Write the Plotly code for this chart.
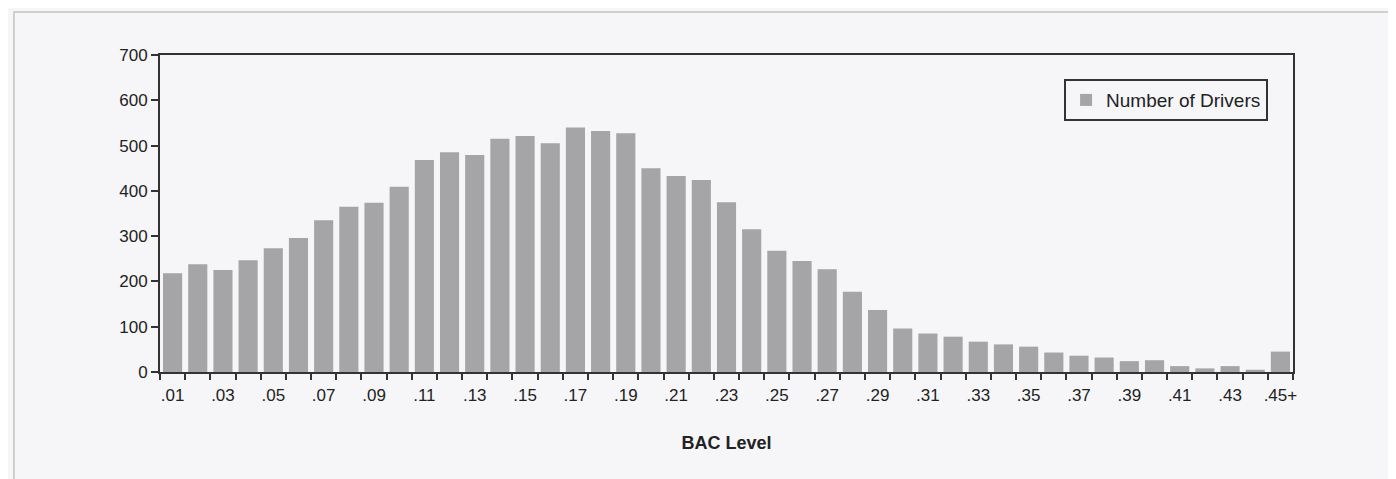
import plotly.graph_objects as go

categories = [".01", ".02", ".03", ".04", ".05", ".06", ".07", ".08", ".09", ".10",
              ".11", ".12", ".13", ".14", ".15", ".16", ".17", ".18", ".19", ".20",
              ".21", ".22", ".23", ".24", ".25", ".26", ".27", ".28", ".29", ".30",
              ".31", ".32", ".33", ".34", ".35", ".36", ".37", ".38", ".39", ".40",
              ".41", ".42", ".43", ".44", ".45+"]
drivers = [218, 238, 225, 247, 273, 296, 335, 365, 374, 409,
           468, 485, 479, 515, 521, 505, 540, 532, 527, 450,
           433, 424, 375, 315, 268, 245, 227, 177, 137, 96,
           85, 78, 67, 61, 56, 43, 36, 32, 24, 26,
           13, 8, 13, 5, 45]
tick_text = [c if i % 2 == 0 else "" for i, c in enumerate(categories)]
y_ticks = [0, 100, 200, 300, 400, 500, 600, 700]

FONT = "Liberation Sans, Arial, sans-serif"
BG = "#f6f6f8"

fig = go.Figure()
fig.add_trace(go.Bar(
    x=categories, y=drivers, name="Number of Drivers",
    marker=dict(color="#a5a5a7", line=dict(width=0)),
    showlegend=True,
))

fig.update_layout(
    width=1388, height=471,
    margin=dict(l=152, r=103, t=47, b=107),
    paper_bgcolor=BG, plot_bgcolor=BG,
    font=dict(family=FONT, size=16, color="#222"),
    bargap=0.24,
    showlegend=True,
    legend=dict(
        x=0.978, y=0.924, xanchor="right", yanchor="top",
        bgcolor=BG, bordercolor="#333", borderwidth=2,
        font=dict(family=FONT, size=19, color="#222"),
        itemwidth=30,
    ),
    xaxis=dict(
        type="category", automargin=False,
        tickmode="array", tickvals=categories, ticktext=tick_text, tickangle=0,
        tickson="boundaries", ticks="outside", ticklen=6, tickwidth=2, tickcolor="#333",
        ticklabelstandoff=7,
        showline=True, linecolor="#333", linewidth=2, mirror=True,
        showgrid=False, zeroline=False,
        range=[-0.5, len(categories) - 0.5],
        tickfont=dict(family=FONT, size=17, color="#222"),
        title=dict(text="<b>BAC Level</b>", font=dict(family=FONT, size=18, color="#222"), standoff=32),
    ),
    yaxis=dict(
        range=[0, 700], tickvals=y_ticks, automargin=False,
        ticks="outside", ticklen=7, tickwidth=2, tickcolor="#333",
        showline=True, linecolor="#333", linewidth=2, mirror=True,
        showgrid=False, zeroline=False,
        tickfont=dict(family=FONT, size=17, color="#222"),
    ),
    shapes=[dict(
        type="rect", xref="paper", yref="paper",
        x0=-0.1289, x1=1.0856, y0=-0.40, y1=1.1356,
        line=dict(color="#c4c4c4", width=1.5), layer="below",
    )],
)

fig.write_html("out.html")
